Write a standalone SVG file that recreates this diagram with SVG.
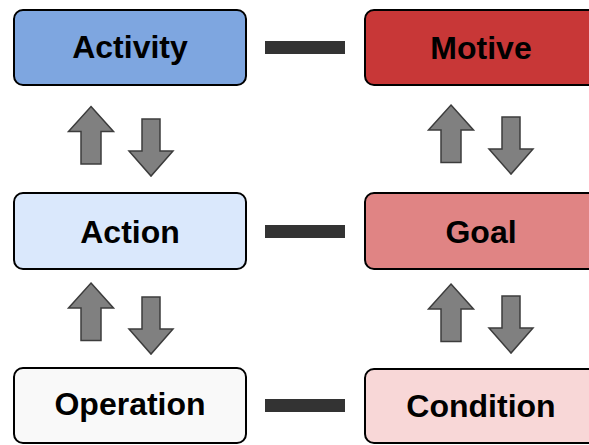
<svg xmlns="http://www.w3.org/2000/svg" width="589" height="445" viewBox="0 0 589 445">
<defs>
<style>
.box{stroke:#000;stroke-width:2}
.lbl{font-family:"Liberation Sans",Arial,sans-serif;font-weight:bold;font-size:32px;text-anchor:middle;fill:#000}
.bar{fill:#333}
.arr{fill:#808080;stroke:#3c3c3c;stroke-width:1.5;stroke-linejoin:miter}
</style>
<path id="up" d="M0,0 L22.5,25 L10,25 L10,57.5 L-10,57.5 L-10,25 L-22.5,25 Z"/>
<path id="down" d="M-9,0 L9,0 L9,32 L22,32 L0,57 L-22,32 L-9,32 Z"/>
</defs>
<rect width="589" height="445" fill="#fff"/>
<g id="connectors">
<rect class="bar" x="265" y="41" width="80" height="13"/>
<rect class="bar" x="265" y="225" width="80" height="13"/>
<rect class="bar" x="265" y="399" width="80" height="13"/>
<use class="arr" href="#up" x="91" y="106.5"/>
<use class="arr" href="#down" x="151" y="119"/>
<use class="arr" href="#up" x="91" y="283"/>
<use class="arr" href="#down" x="151" y="297"/>
<use class="arr" href="#up" x="451" y="105"/>
<use class="arr" href="#down" x="511" y="117"/>
<use class="arr" href="#up" x="451" y="284"/>
<use class="arr" href="#down" x="511" y="296"/>
</g>
<g id="activity">
<rect class="box" x="14" y="10" width="232" height="75" rx="9" fill="#7EA6E0"/>
<text class="lbl" x="130" y="58">Activity</text>
</g>
<g id="motive">
<rect class="box" x="365" y="10" width="232" height="75" rx="9" fill="#C83737"/>
<text class="lbl" x="481" y="59">Motive</text>
</g>
<g id="action">
<rect class="box" x="14" y="193" width="232" height="76" rx="9" fill="#DAE8FC"/>
<text class="lbl" x="130" y="243">Action</text>
</g>
<g id="goal">
<rect class="box" x="365" y="193" width="232" height="76" rx="9" fill="#E08484"/>
<text class="lbl" x="481" y="243">Goal</text>
</g>
<g id="operation">
<rect class="box" x="14" y="368" width="232" height="75" rx="9" fill="#F9F9F9"/>
<text class="lbl" x="130" y="415">Operation</text>
</g>
<g id="condition">
<rect class="box" x="365" y="369" width="232" height="74" rx="9" fill="#F8D7D7"/>
<text class="lbl" x="481" y="417">Condition</text>
</g>
</svg>
